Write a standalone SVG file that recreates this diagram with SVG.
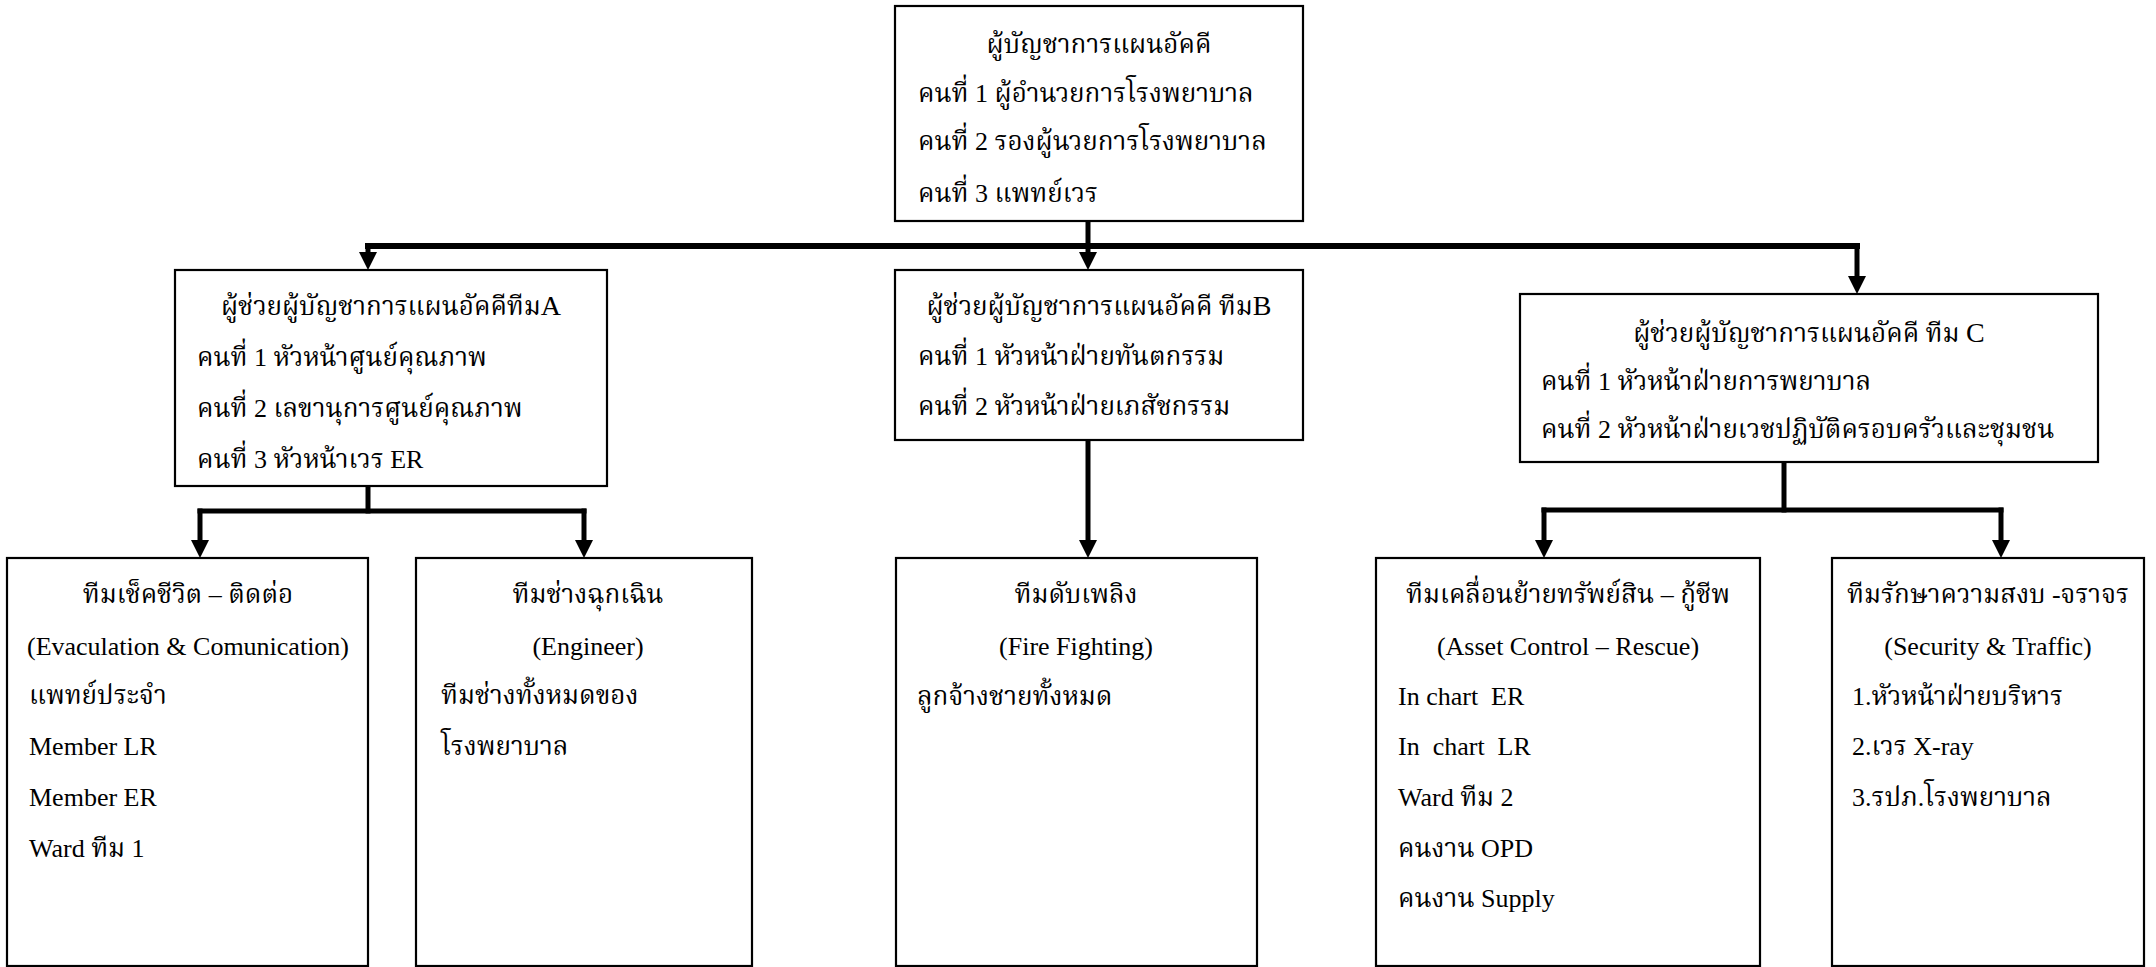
<svg xmlns="http://www.w3.org/2000/svg" width="2156" height="967" viewBox="0 0 2156 967">
<style>
  .box { fill: #ffffff; stroke: #000000; stroke-width: 2.2; }
  .t { font-family: "Liberation Serif", "Noto Serif Thai", "Noto Sans Thai", "Noto Sans", serif; font-size: 26px; fill: #000000; }
  .c { text-anchor: middle; }
  .lat { font-size: 28px; }
  .conn { fill: none; stroke: #000000; stroke-width: 5; stroke-linejoin: miter; stroke-linecap: square; }
  .main { stroke-width: 6; }
  .head { fill: #000000; }
</style>
<rect width="2156" height="967" fill="#ffffff"/>

<g id="connectors">
  <path class="conn" d="M1088,221 L1088,246"/>
  <path class="conn main" d="M368,246 L1857,246"/>
  <path class="conn" d="M368,246 L368,254"/>
  <polygon class="head" points="359,252 377,252 368,270"/>
  <path class="conn" d="M1088,246 L1088,254"/>
  <polygon class="head" points="1079,252 1097,252 1088,270"/>
  <path class="conn" d="M1857,246 L1857,278"/>
  <polygon class="head" points="1848,276 1866,276 1857,294"/>

  <path class="conn" d="M368,486 L368,511"/>
  <path class="conn" d="M200,511 L584,511"/>
  <path class="conn" d="M200,511 L200,542"/>
  <polygon class="head" points="191,540 209,540 200,558"/>
  <path class="conn" d="M584,511 L584,542"/>
  <polygon class="head" points="575,540 593,540 584,558"/>

  <path class="conn" d="M1088,440 L1088,542"/>
  <polygon class="head" points="1079,540 1097,540 1088,558"/>

  <path class="conn" d="M1784,462 L1784,510"/>
  <path class="conn" d="M1544,510 L2001,510"/>
  <path class="conn" d="M1544,510 L1544,542"/>
  <polygon class="head" points="1535,540 1553,540 1544,558"/>
  <path class="conn" d="M2001,510 L2001,542"/>
  <polygon class="head" points="1992,540 2010,540 2001,558"/>
</g>

<g id="node-commander">
  <rect class="box" x="895" y="6" width="408" height="215"/>
  <text class="t c" x="1099" y="53">ผู้บัญชาการแผนอัคคี</text>
  <text class="t" x="918" y="102">คนที่ 1 ผู้อำนวยการโรงพยาบาล</text>
  <text class="t" x="918" y="150">คนที่ 2 รองผู้นวยการโรงพยาบาล</text>
  <text class="t" x="918" y="202">คนที่ 3 แพทย์เวร</text>
</g>

<g id="node-team-a">
  <rect class="box" x="175" y="270" width="432" height="216"/>
  <text class="t c" x="391" y="315">ผู้ช่วยผู้บัญชาการแผนอัคคีทีม<tspan class="lat">A</tspan></text>
  <text class="t" x="197" y="366">คนที่ 1 หัวหน้าศูนย์คุณภาพ</text>
  <text class="t" x="197" y="417">คนที่ 2 เลขานุการศูนย์คุณภาพ</text>
  <text class="t" x="197" y="468">คนที่ 3 หัวหน้าเวร ER</text>
</g>

<g id="node-team-b">
  <rect class="box" x="895" y="270" width="408" height="170"/>
  <text class="t c" x="1099" y="315">ผู้ช่วยผู้บัญชาการแผนอัคคี ทีม<tspan class="lat">B</tspan></text>
  <text class="t" x="918" y="365">คนที่ 1 หัวหน้าฝ่ายทันตกรรม</text>
  <text class="t" x="918" y="415">คนที่ 2 หัวหน้าฝ่ายเภสัชกรรม</text>
</g>

<g id="node-team-c">
  <rect class="box" x="1520" y="294" width="578" height="168"/>
  <text class="t c" x="1809" y="342">ผู้ช่วยผู้บัญชาการแผนอัคคี ทีม <tspan class="lat">C</tspan></text>
  <text class="t" x="1541" y="390">คนที่ 1 หัวหน้าฝ่ายการพยาบาล</text>
  <text class="t" x="1541" y="438">คนที่ 2 หัวหน้าฝ่ายเวชปฏิบัติครอบครัวและชุมชน</text>
</g>

<g id="node-evacuation">
  <rect class="box" x="7" y="558" width="361" height="408"/>
  <text class="t c" x="188" y="603">ทีมเช็คชีวิต – ติดต่อ</text>
  <text class="t c" x="188" y="655">(Evaculation &amp; Comunication)</text>
  <text class="t" x="29" y="704">แพทย์ประจำ</text>
  <text class="t" x="29" y="755">Member LR</text>
  <text class="t" x="29" y="806">Member ER</text>
  <text class="t" x="29" y="857">Ward ทีม 1</text>
</g>

<g id="node-engineer">
  <rect class="box" x="416" y="558" width="336" height="408"/>
  <text class="t c" x="588" y="603">ทีมช่างฉุกเฉิน</text>
  <text class="t c" x="588" y="655">(Engineer)</text>
  <text class="t" x="441" y="704">ทีมช่างทั้งหมดของ</text>
  <text class="t" x="441" y="755">โรงพยาบาล</text>
</g>

<g id="node-fire">
  <rect class="box" x="896" y="558" width="361" height="408"/>
  <text class="t c" x="1076" y="603">ทีมดับเพลิง</text>
  <text class="t c" x="1076" y="655">(Fire Fighting)</text>
  <text class="t" x="917" y="705">ลูกจ้างชายทั้งหมด</text>
</g>

<g id="node-asset">
  <rect class="box" x="1376" y="558" width="384" height="408"/>
  <text class="t c" x="1568" y="603">ทีมเคลื่อนย้ายทรัพย์สิน – กู้ชีพ</text>
  <text class="t c" x="1568" y="655">(Asset Control – Rescue)</text>
  <text class="t" x="1398" y="705" xml:space="preserve">In chart  ER</text>
  <text class="t" x="1398" y="755" xml:space="preserve">In  chart  LR</text>
  <text class="t" x="1398" y="806">Ward ทีม 2</text>
  <text class="t" x="1398" y="857">คนงาน OPD</text>
  <text class="t" x="1398" y="907">คนงาน Supply</text>
</g>

<g id="node-security">
  <rect class="box" x="1832" y="558" width="312" height="408"/>
  <text class="t c" x="1988" y="603">ทีมรักษาความสงบ -จราจร</text>
  <text class="t c" x="1988" y="655">(Security &amp; Traffic)</text>
  <text class="t" x="1852" y="705">1.หัวหน้าฝ่ายบริหาร</text>
  <text class="t" x="1852" y="755">2.เวร X-ray</text>
  <text class="t" x="1852" y="806">3.รปภ.โรงพยาบาล</text>
</g>
</svg>
